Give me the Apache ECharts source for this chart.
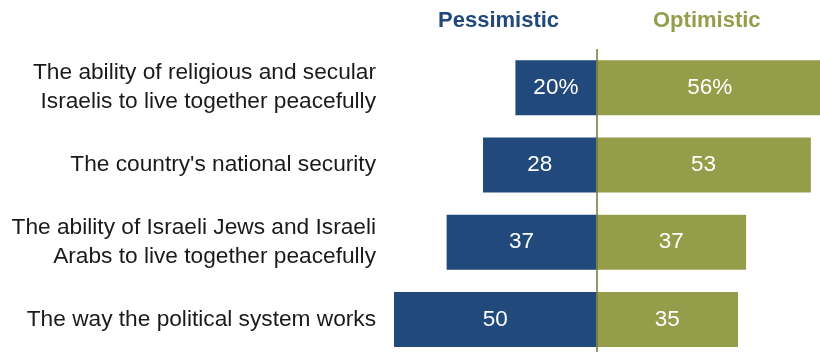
<!DOCTYPE html>
<html>
<head>
<meta charset="utf-8">
<script src="https://cdn.jsdelivr.net/npm/echarts@6/dist/echarts.min.js"></script>
<style>
  html, body { margin: 0; padding: 0; background: #fff; }
  #chart { width: 820px; height: 352px; }
</style>
</head>
<body>
<div id="chart"></div>
<script>
// Survey items, top to bottom
const categories = [
  "The ability of religious and secular\nIsraelis to live together peacefully",
  "The country's national security",
  "The ability of Israeli Jews and Israeli\nArabs to live together peacefully",
  "The way the political system works"
];
const pessimistic = [20, 28, 37, 50];
const optimistic = [56, 53, 37, 35];
const seriesNames = ["Pessimistic", "Optimistic"];

const BLUE = "#21497b";
const OLIVE = "#949e4a";
const LABEL_FONT = "'Liberation Sans', Arial, sans-serif";

// First row carries the percent sign
const fmt = (v, i) => Math.abs(v) + (i === 0 ? "%" : "");

const chart = echarts.init(document.getElementById("chart"), null, { renderer: "canvas" });

const valueLabel = {
  show: true,
  position: "inside",
  color: "#fff",
  fontFamily: LABEL_FONT,
  fontSize: 22.5,
  formatter: p => fmt(p.value, p.dataIndex)
};

chart.setOption({
  animation: false,
  grid: {
    left: 394, top: 49, width: 429, height: 309,
    containLabel: false,
    outerBoundsMode: "none"
  },
  xAxis: {
    type: "value",
    min: -50,
    max: 56,
    show: false
  },
  yAxis: {
    type: "category",
    data: categories,
    inverse: true,
    axisLine: { show: false, onZero: false },
    axisTick: { show: false },
    splitLine: { show: false },
    axisLabel: {
      margin: 18,
      color: "#1a1a1a",
      fontFamily: LABEL_FONT,
      fontSize: 22.7,
      lineHeight: 29,
      align: "right"
    }
  },
  series: [
    {
      name: seriesNames[0],
      type: "bar",
      data: pessimistic.map(v => -v),
      barWidth: 55,
      barGap: "-100%",
      clip: false,
      itemStyle: { color: BLUE },
      label: valueLabel
    },
    {
      name: seriesNames[1],
      type: "bar",
      data: optimistic,
      barWidth: 55,
      barGap: "-100%",
      clip: false,
      itemStyle: { color: OLIVE },
      label: valueLabel,
      markLine: {
        silent: true,
        symbol: "none",
        label: { show: false },
        lineStyle: { color: "#6e7636", width: 1.5, type: "solid" },
        data: [{ xAxis: 0 }]
      }
    }
  ],
  graphic: [
    {
      type: "text",
      left: 438,
      top: 10,
      style: {
        text: seriesNames[0],
        fill: BLUE,
        font: "bold 22px 'Liberation Sans Narrow', 'Liberation Sans', sans-serif"
      }
    },
    {
      type: "text",
      left: 653,
      top: 10,
      style: {
        text: seriesNames[1],
        fill: OLIVE,
        font: "bold 22px 'Liberation Sans Narrow', 'Liberation Sans', sans-serif"
      }
    }
  ]
});
</script>
</body>
</html>
